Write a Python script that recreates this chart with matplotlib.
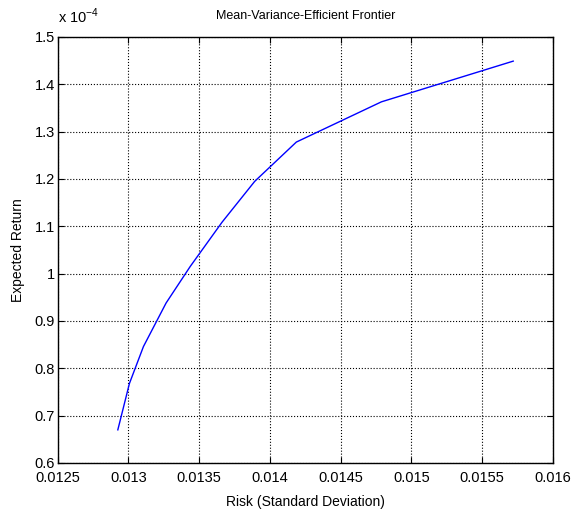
import numpy as np
import matplotlib.pyplot as plt
from matplotlib.ticker import FuncFormatter

plt.rcParams['font.family'] = ['Liberation Sans', 'DejaVu Sans']

# frontier points: risk (std dev) and expected return (x 1e-4)
risk = [0.012926, 0.013008, 0.013107, 0.013267, 0.013437,
        0.013663, 0.013893, 0.014187, 0.014788, 0.015719]
ret = [0.670, 0.768, 0.846, 0.938, 1.015,
       1.109, 1.195, 1.278, 1.363, 1.449]

xticks = [0.0125, 0.013, 0.0135, 0.014, 0.0145, 0.015, 0.0155, 0.016]
yticks = [0.6, 0.7, 0.8, 0.9, 1.0, 1.1, 1.2, 1.3, 1.4, 1.5]

fig = plt.figure(figsize=(5.74, 5.13), dpi=100)
ax = fig.add_axes([0.1002, 0.0975, 0.8632, 0.8304])

ax.plot(risk, ret, color='#0000ff', lw=1.0)

ax.set_xlim(0.0125, 0.016)
ax.set_ylim(0.6, 1.5)
ax.set_xticks(xticks)
ax.set_yticks(yticks)
ax.xaxis.set_major_formatter(FuncFormatter(lambda v, p: '%g' % v))
ax.yaxis.set_major_formatter(FuncFormatter(lambda v, p: '%g' % round(v, 4)))
ax.tick_params(direction='in', top=True, right=True, length=4, width=0.8,
               labelsize=10.5, colors='black')
ax.tick_params(axis='x', pad=6)
ax.tick_params(axis='y', pad=2)
ax.grid(True, color='black', linestyle=':', linewidth=0.8)
for s in ax.spines.values():
    s.set_linewidth(1.0)
    s.set_color('black')

ax.set_title('Mean-Variance-Efficient Frontier', fontsize=9, pad=13)
ax.set_xlabel('Risk (Standard Deviation)', fontsize=10, labelpad=7)
ax.set_ylabel('Expected Return', fontsize=10, labelpad=7)
ax.text(0.0, 1.025, r'x 10$^{\mathdefault{-4}}$', transform=ax.transAxes,
        fontsize=10.5, ha='left', va='bottom')

fig.savefig('out.png', dpi=100)
